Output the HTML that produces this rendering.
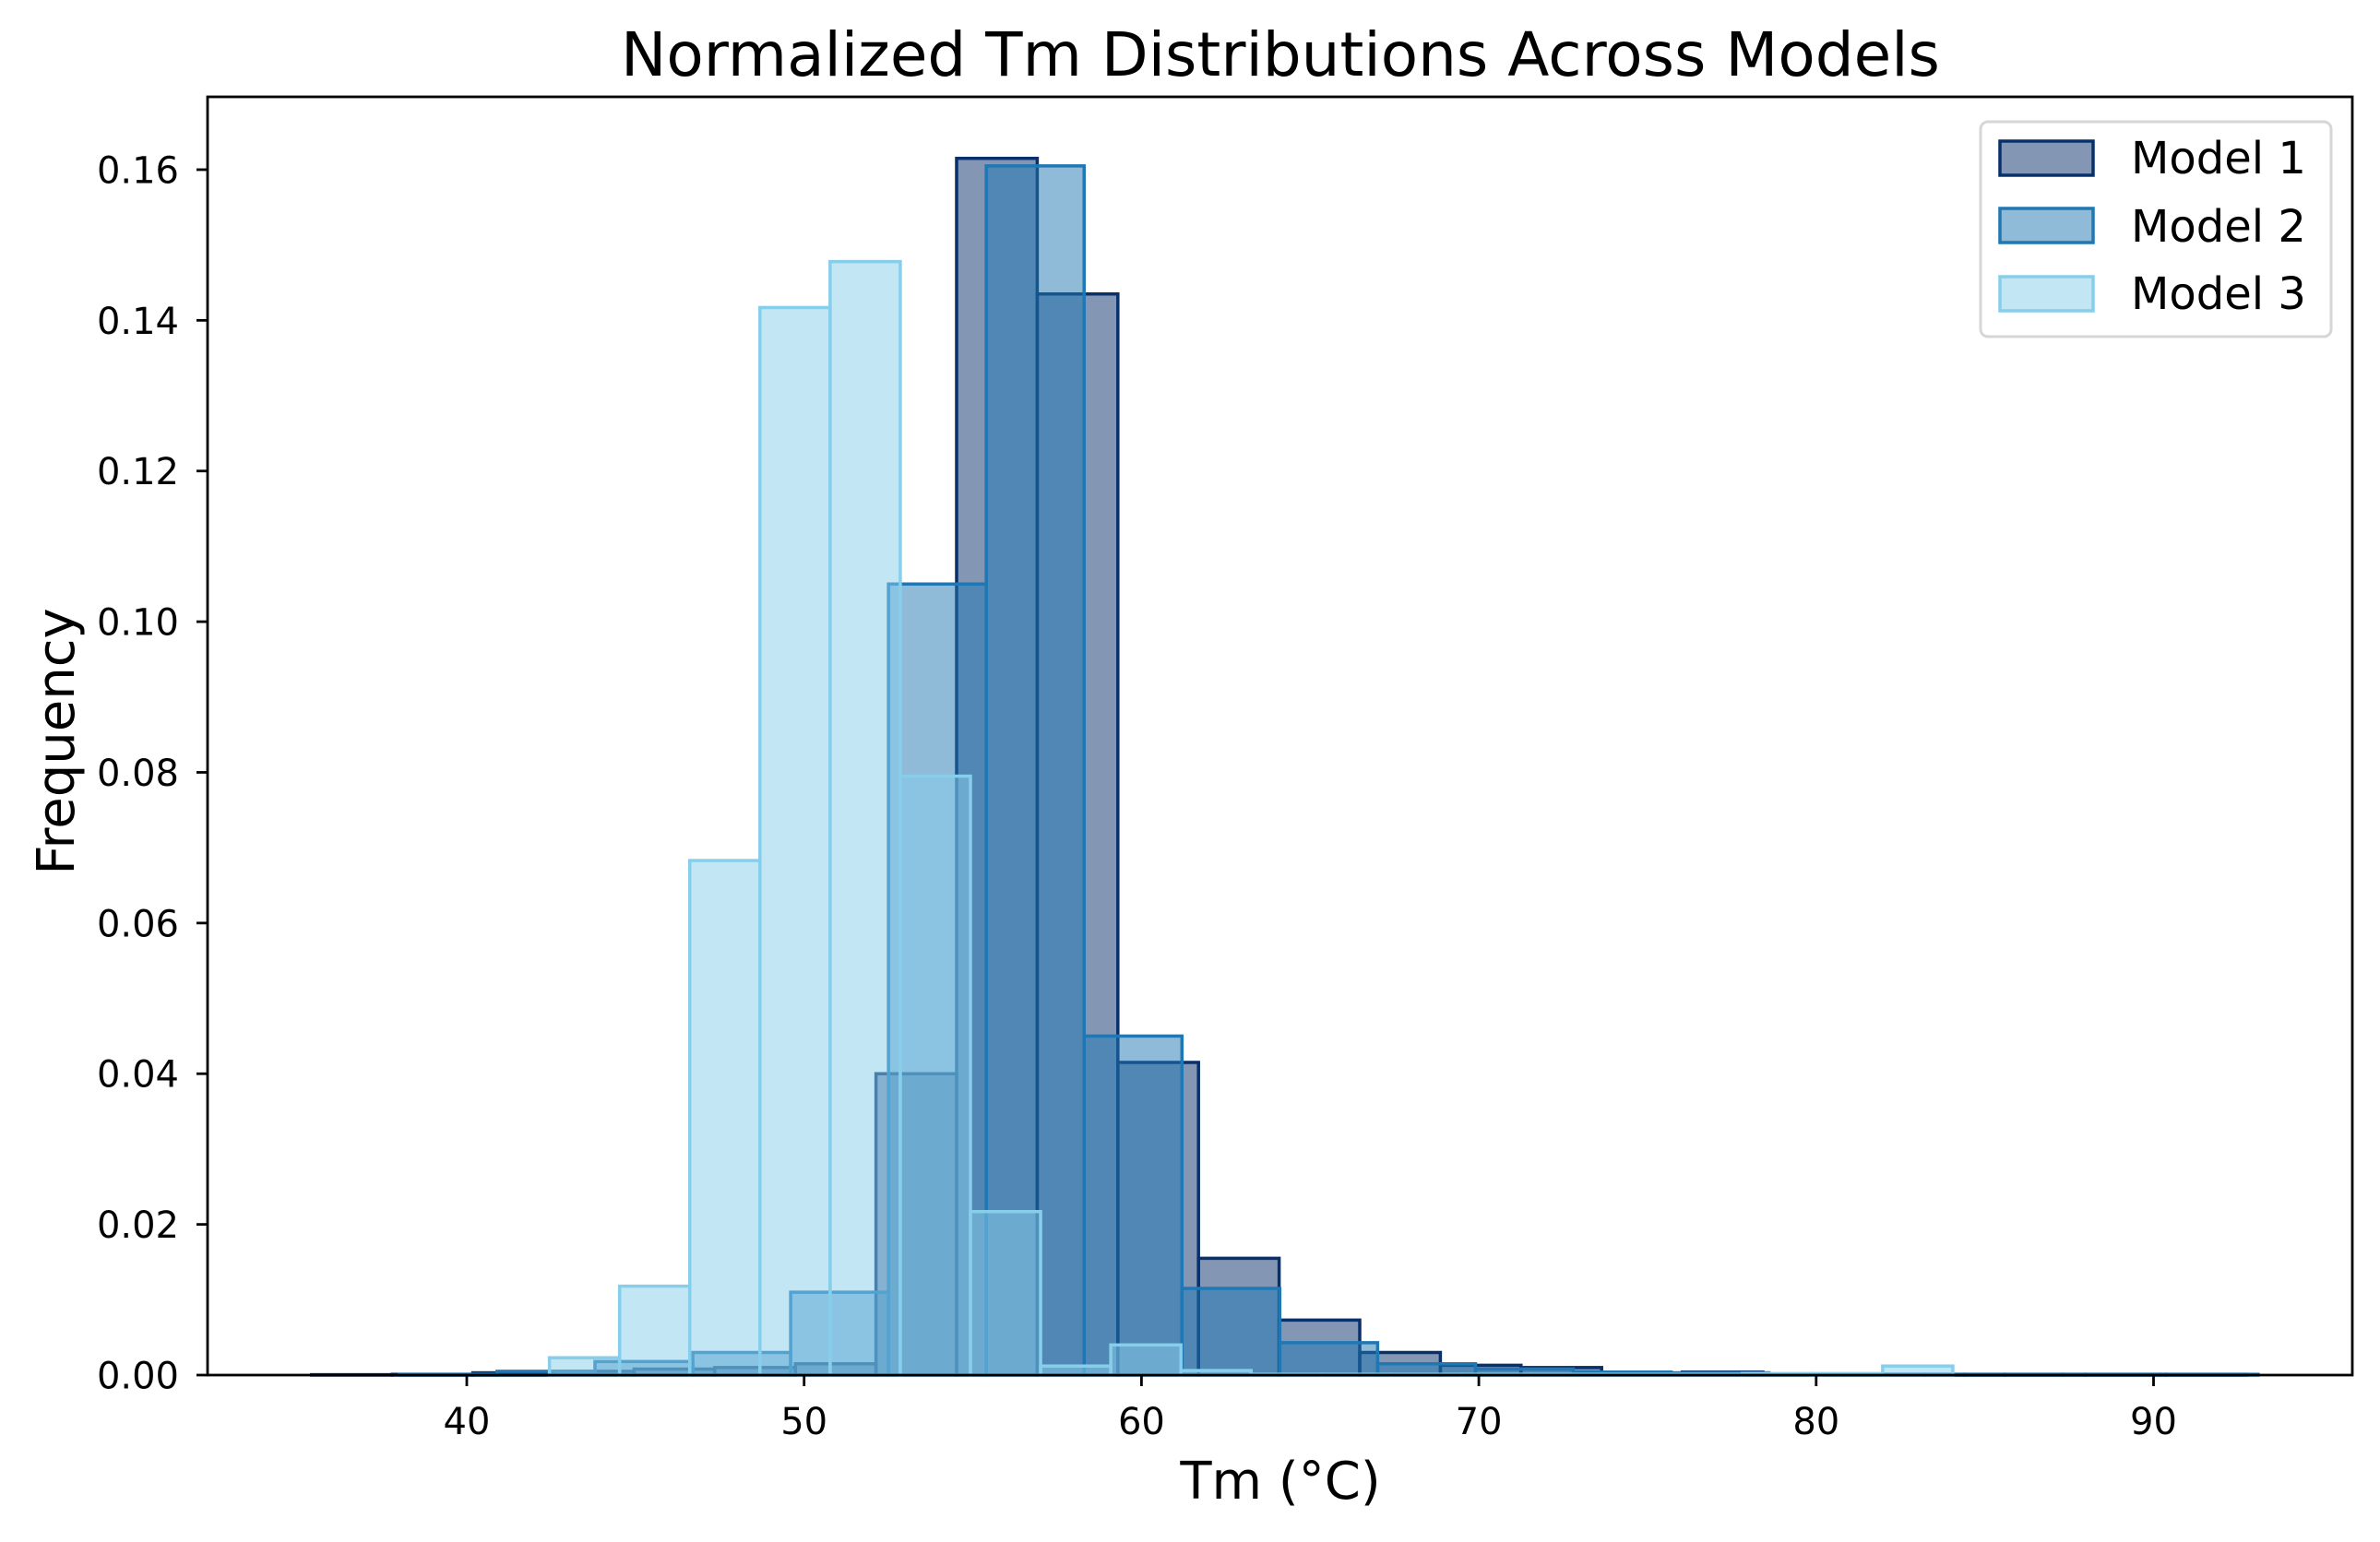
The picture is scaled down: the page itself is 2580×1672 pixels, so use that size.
<!DOCTYPE html>
<html><head><meta charset="utf-8"><style>
html,body{margin:0;padding:0;background:#fff;}
svg text{font-family:"DejaVu Sans","Liberation Sans",sans-serif;}
</style></head><body>
<svg id="chart" width="2580" height="1667" viewBox="0 0 2580 1667" xmlns="http://www.w3.org/2000/svg">
<rect width="2580" height="1667" fill="#fff"/>
<text x="1388" y="82" font-size="66" text-anchor="middle">Normalized Tm Distributions Across Models</text>
<g id="bars"></g>
<g id="axes"></g>
<text x="1388" y="1625" font-size="56" text-anchor="middle">Tm (°C)</text>
<text x="0" y="0" font-size="56" text-anchor="middle" transform="translate(80,804) rotate(-90)">Frequency</text>
<g>
<rect x="2147" y="132" width="380" height="233" rx="8" fill="#fff" fill-opacity="0.8" stroke="#d6d6d6" stroke-width="3"/>
<g>
<rect x="2168" y="153" width="101" height="37" fill="#08306b" fill-opacity="0.5" stroke="#08306b" stroke-width="3.5"/>
<text x="2310" y="188" font-size="48">Model 1</text></g>
<g>
<rect x="2168" y="226" width="101" height="37" fill="#1f77b4" fill-opacity="0.5" stroke="#1f77b4" stroke-width="3.5"/>
<text x="2310" y="262" font-size="48">Model 2</text></g>
<g>
<rect x="2168" y="300" width="101" height="37" fill="#87ceeb" fill-opacity="0.5" stroke="#87ceeb" stroke-width="3.5"/>
<text x="2310" y="335" font-size="48">Model 3</text></g>
</g>
</svg>
<script>
const model1Start = 35.4;
const model1Width = 2.39;
const model1Values = [0.00005,0.0001,0.0003,0.0005,0.0008,0.001,0.0015,0.040,0.1615,0.1435,0.0415,0.0155,0.0073,0.003,0.0013,0.001,0.0002,0.0004,0.0001,0.0001,0.0001,0.0001,0.0001,0.0001];
const model2Start = 38.0;
const model2Width = 2.9;
const model2Values = [0.0001,0.0005,0.0018,0.003,0.011,0.105,0.1605,0.045,0.0115,0.0043,0.0015,0.0008,0.0004,0.0003,0.0001,0.0001,0.0001,0.0001,0.0001];
const model3Start = 42.45;
const model3Width = 2.08;
const model3Values = [0.0023,0.0118,0.0683,0.1417,0.1478,0.0795,0.0217,0.0012,0.004,0.0006,0.0001,0.0001,0.0001,0.0001,0.0001,0.0001,0.0001,0.0002,0.0002,0.0012];
const xTicks = [40,50,60,70,80,90];
const yTicks = [0,0.02,0.04,0.06,0.08,0.10,0.12,0.14,0.16];
const yTickLabels = ["0.00","0.02","0.04","0.06","0.08","0.10","0.12","0.14","0.16"];

const L=225,R=2550,T=105,B=1491;
function xs(v){return 506+(v-40)*36.57;}
function ys(v){return B-v*8169;}
const NS="http://www.w3.org/2000/svg";
const bars=document.getElementById('bars');
const series=[
 {start:model1Start,w:model1Width,vals:model1Values,color:"#08306b",name:"model-1"},
 {start:model2Start,w:model2Width,vals:model2Values,color:"#1f77b4",name:"model-2"},
 {start:model3Start,w:model3Width,vals:model3Values,color:"#87ceeb",name:"model-3"}];
series.forEach(s=>{
 s.vals.forEach((v,i)=>{
  const x0=xs(s.start+i*s.w), x1=xs(s.start+(i+1)*s.w);
  const r=document.createElementNS(NS,'rect');
  r.setAttribute('x',x0);r.setAttribute('width',x1-x0);
  r.setAttribute('y',ys(v));r.setAttribute('height',B-ys(v));
  r.setAttribute('fill',s.color);r.setAttribute('fill-opacity','0.5');
  r.setAttribute('stroke',s.color);r.setAttribute('stroke-width','3.5');
  
  
  bars.appendChild(r);
 });
});
const axes=document.getElementById('axes');
const frame=document.createElementNS(NS,'rect');
frame.setAttribute('x',L);frame.setAttribute('y',T);frame.setAttribute('width',R-L);frame.setAttribute('height',B-T);
frame.setAttribute('fill','none');frame.setAttribute('stroke','#000');frame.setAttribute('stroke-width','2.8');


axes.appendChild(frame);
xTicks.forEach(t=>{
 const x=xs(t);
 const l=document.createElementNS(NS,'line');
 l.setAttribute('x1',x);l.setAttribute('x2',x);l.setAttribute('y1',B);l.setAttribute('y2',B+12);
 l.setAttribute('stroke','#000');l.setAttribute('stroke-width','2.8');
 
 
 axes.appendChild(l);
 const tx=document.createElementNS(NS,'text');
 tx.setAttribute('x',x);tx.setAttribute('y',1555);tx.setAttribute('font-size','40');tx.setAttribute('text-anchor','middle');
 tx.textContent=t;
 
 
 axes.appendChild(tx);
});
yTicks.forEach((t,i)=>{
 const y=ys(t);
 const l=document.createElementNS(NS,'line');
 l.setAttribute('x1',L-12);l.setAttribute('x2',L);l.setAttribute('y1',y);l.setAttribute('y2',y);
 l.setAttribute('stroke','#000');l.setAttribute('stroke-width','2.8');
 
 
 axes.appendChild(l);
 const tx=document.createElementNS(NS,'text');
 tx.setAttribute('x',194);tx.setAttribute('y',y+14.5);tx.setAttribute('font-size','40');tx.setAttribute('text-anchor','end');
 tx.textContent=yTickLabels[i];
 
 
 axes.appendChild(tx);
});
</script>
</body></html>
